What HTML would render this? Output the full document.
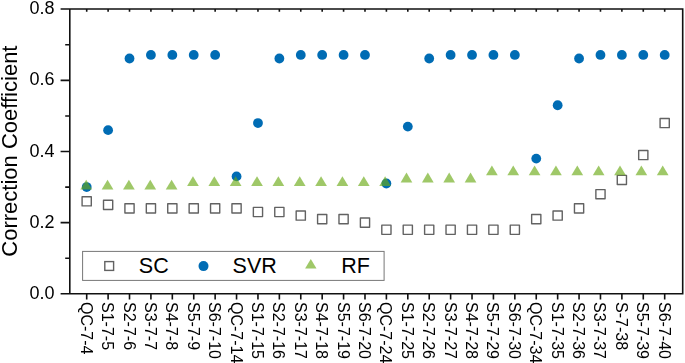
<!DOCTYPE html><html><head><meta charset="utf-8"><style>html,body{margin:0;padding:0;background:#fff;width:685px;height:363px;overflow:hidden}svg{display:block;font-family:"Liberation Sans",sans-serif}</style></head><body>
<svg width="685" height="363" viewBox="0 0 685 363">
<g style="will-change:transform">
<text transform="translate(16.7,151.1) rotate(-90)" font-size="22" text-anchor="middle">Correction Coefficient</text>
<text x="54.5" y="298.85" font-size="18" text-anchor="end">0.0</text>
<text x="54.5" y="227.70" font-size="18" text-anchor="end">0.2</text>
<text x="54.5" y="156.55" font-size="18" text-anchor="end">0.4</text>
<text x="54.5" y="85.40" font-size="18" text-anchor="end">0.6</text>
<text x="54.5" y="14.25" font-size="18" text-anchor="end">0.8</text>
</g>
<rect x="82.10" y="196.71" width="9.2" height="9.2" fill="none" stroke="#626262" stroke-width="1.4" stroke-linejoin="round"/>
<rect x="103.51" y="200.26" width="9.2" height="9.2" fill="none" stroke="#626262" stroke-width="1.4" stroke-linejoin="round"/>
<rect x="124.91" y="203.82" width="9.2" height="9.2" fill="none" stroke="#626262" stroke-width="1.4" stroke-linejoin="round"/>
<rect x="146.32" y="203.82" width="9.2" height="9.2" fill="none" stroke="#626262" stroke-width="1.4" stroke-linejoin="round"/>
<rect x="167.73" y="203.82" width="9.2" height="9.2" fill="none" stroke="#626262" stroke-width="1.4" stroke-linejoin="round"/>
<rect x="189.14" y="203.82" width="9.2" height="9.2" fill="none" stroke="#626262" stroke-width="1.4" stroke-linejoin="round"/>
<rect x="210.54" y="203.82" width="9.2" height="9.2" fill="none" stroke="#626262" stroke-width="1.4" stroke-linejoin="round"/>
<rect x="231.95" y="203.82" width="9.2" height="9.2" fill="none" stroke="#626262" stroke-width="1.4" stroke-linejoin="round"/>
<rect x="253.36" y="207.38" width="9.2" height="9.2" fill="none" stroke="#626262" stroke-width="1.4" stroke-linejoin="round"/>
<rect x="274.76" y="207.38" width="9.2" height="9.2" fill="none" stroke="#626262" stroke-width="1.4" stroke-linejoin="round"/>
<rect x="296.17" y="210.94" width="9.2" height="9.2" fill="none" stroke="#626262" stroke-width="1.4" stroke-linejoin="round"/>
<rect x="317.58" y="214.49" width="9.2" height="9.2" fill="none" stroke="#626262" stroke-width="1.4" stroke-linejoin="round"/>
<rect x="338.98" y="214.49" width="9.2" height="9.2" fill="none" stroke="#626262" stroke-width="1.4" stroke-linejoin="round"/>
<rect x="360.39" y="218.05" width="9.2" height="9.2" fill="none" stroke="#626262" stroke-width="1.4" stroke-linejoin="round"/>
<rect x="381.80" y="225.17" width="9.2" height="9.2" fill="none" stroke="#626262" stroke-width="1.4" stroke-linejoin="round"/>
<rect x="403.20" y="225.17" width="9.2" height="9.2" fill="none" stroke="#626262" stroke-width="1.4" stroke-linejoin="round"/>
<rect x="424.61" y="225.17" width="9.2" height="9.2" fill="none" stroke="#626262" stroke-width="1.4" stroke-linejoin="round"/>
<rect x="446.02" y="225.17" width="9.2" height="9.2" fill="none" stroke="#626262" stroke-width="1.4" stroke-linejoin="round"/>
<rect x="467.43" y="225.17" width="9.2" height="9.2" fill="none" stroke="#626262" stroke-width="1.4" stroke-linejoin="round"/>
<rect x="488.83" y="225.17" width="9.2" height="9.2" fill="none" stroke="#626262" stroke-width="1.4" stroke-linejoin="round"/>
<rect x="510.24" y="225.17" width="9.2" height="9.2" fill="none" stroke="#626262" stroke-width="1.4" stroke-linejoin="round"/>
<rect x="531.65" y="214.49" width="9.2" height="9.2" fill="none" stroke="#626262" stroke-width="1.4" stroke-linejoin="round"/>
<rect x="553.05" y="210.94" width="9.2" height="9.2" fill="none" stroke="#626262" stroke-width="1.4" stroke-linejoin="round"/>
<rect x="574.46" y="203.82" width="9.2" height="9.2" fill="none" stroke="#626262" stroke-width="1.4" stroke-linejoin="round"/>
<rect x="595.87" y="189.59" width="9.2" height="9.2" fill="none" stroke="#626262" stroke-width="1.4" stroke-linejoin="round"/>
<rect x="617.27" y="175.36" width="9.2" height="9.2" fill="none" stroke="#626262" stroke-width="1.4" stroke-linejoin="round"/>
<rect x="638.68" y="150.46" width="9.2" height="9.2" fill="none" stroke="#626262" stroke-width="1.4" stroke-linejoin="round"/>
<rect x="660.09" y="118.44" width="9.2" height="9.2" fill="none" stroke="#626262" stroke-width="1.4" stroke-linejoin="round"/>
<circle cx="86.70" cy="187.08" r="4.9" fill="#006cb4"/>
<circle cx="108.11" cy="130.16" r="4.9" fill="#006cb4"/>
<circle cx="129.51" cy="58.51" r="4.9" fill="#006cb4"/>
<circle cx="150.92" cy="54.95" r="4.9" fill="#006cb4"/>
<circle cx="172.33" cy="54.95" r="4.9" fill="#006cb4"/>
<circle cx="193.74" cy="54.95" r="4.9" fill="#006cb4"/>
<circle cx="215.14" cy="54.95" r="4.9" fill="#006cb4"/>
<circle cx="236.55" cy="176.40" r="4.9" fill="#006cb4"/>
<circle cx="257.96" cy="123.04" r="4.9" fill="#006cb4"/>
<circle cx="279.36" cy="58.51" r="4.9" fill="#006cb4"/>
<circle cx="300.77" cy="54.95" r="4.9" fill="#006cb4"/>
<circle cx="322.18" cy="54.95" r="4.9" fill="#006cb4"/>
<circle cx="343.58" cy="54.95" r="4.9" fill="#006cb4"/>
<circle cx="364.99" cy="54.95" r="4.9" fill="#006cb4"/>
<circle cx="386.40" cy="183.52" r="4.9" fill="#006cb4"/>
<circle cx="407.81" cy="126.60" r="4.9" fill="#006cb4"/>
<circle cx="429.21" cy="58.51" r="4.9" fill="#006cb4"/>
<circle cx="450.62" cy="54.95" r="4.9" fill="#006cb4"/>
<circle cx="472.03" cy="54.95" r="4.9" fill="#006cb4"/>
<circle cx="493.43" cy="54.95" r="4.9" fill="#006cb4"/>
<circle cx="514.84" cy="54.95" r="4.9" fill="#006cb4"/>
<circle cx="536.25" cy="158.62" r="4.9" fill="#006cb4"/>
<circle cx="557.65" cy="105.25" r="4.9" fill="#006cb4"/>
<circle cx="579.06" cy="58.51" r="4.9" fill="#006cb4"/>
<circle cx="600.47" cy="54.95" r="4.9" fill="#006cb4"/>
<circle cx="621.88" cy="54.95" r="4.9" fill="#006cb4"/>
<circle cx="643.28" cy="54.95" r="4.9" fill="#006cb4"/>
<circle cx="664.69" cy="54.95" r="4.9" fill="#006cb4"/>
<path d="M86.20 179.70L92.05 189.50L80.35 189.50Z" fill="#69a913" fill-opacity="0.64"/>
<path d="M107.55 179.70L113.40 189.50L101.70 189.50Z" fill="#69a913" fill-opacity="0.64"/>
<path d="M128.90 179.70L134.75 189.50L123.05 189.50Z" fill="#69a913" fill-opacity="0.64"/>
<path d="M150.26 179.70L156.11 189.50L144.41 189.50Z" fill="#69a913" fill-opacity="0.64"/>
<path d="M171.61 179.70L177.46 189.50L165.76 189.50Z" fill="#69a913" fill-opacity="0.64"/>
<path d="M192.96 176.14L198.81 185.94L187.11 185.94Z" fill="#69a913" fill-opacity="0.64"/>
<path d="M214.31 176.14L220.16 185.94L208.46 185.94Z" fill="#69a913" fill-opacity="0.64"/>
<path d="M235.66 176.14L241.51 185.94L229.81 185.94Z" fill="#69a913" fill-opacity="0.64"/>
<path d="M257.02 176.14L262.87 185.94L251.17 185.94Z" fill="#69a913" fill-opacity="0.64"/>
<path d="M278.37 176.14L284.22 185.94L272.52 185.94Z" fill="#69a913" fill-opacity="0.64"/>
<path d="M299.72 176.14L305.57 185.94L293.87 185.94Z" fill="#69a913" fill-opacity="0.64"/>
<path d="M321.07 176.14L326.92 185.94L315.22 185.94Z" fill="#69a913" fill-opacity="0.64"/>
<path d="M342.42 176.14L348.27 185.94L336.57 185.94Z" fill="#69a913" fill-opacity="0.64"/>
<path d="M363.78 176.14L369.63 185.94L357.93 185.94Z" fill="#69a913" fill-opacity="0.64"/>
<path d="M385.13 176.14L390.98 185.94L379.28 185.94Z" fill="#69a913" fill-opacity="0.64"/>
<path d="M406.48 172.58L412.33 182.38L400.63 182.38Z" fill="#69a913" fill-opacity="0.64"/>
<path d="M427.83 172.58L433.68 182.38L421.98 182.38Z" fill="#69a913" fill-opacity="0.64"/>
<path d="M449.18 172.58L455.03 182.38L443.33 182.38Z" fill="#69a913" fill-opacity="0.64"/>
<path d="M470.54 172.58L476.39 182.38L464.69 182.38Z" fill="#69a913" fill-opacity="0.64"/>
<path d="M491.89 165.47L497.74 175.27L486.04 175.27Z" fill="#69a913" fill-opacity="0.64"/>
<path d="M513.24 165.47L519.09 175.27L507.39 175.27Z" fill="#69a913" fill-opacity="0.64"/>
<path d="M534.59 165.47L540.44 175.27L528.74 175.27Z" fill="#69a913" fill-opacity="0.64"/>
<path d="M555.94 165.47L561.79 175.27L550.09 175.27Z" fill="#69a913" fill-opacity="0.64"/>
<path d="M577.30 165.47L583.15 175.27L571.45 175.27Z" fill="#69a913" fill-opacity="0.64"/>
<path d="M598.65 165.47L604.50 175.27L592.80 175.27Z" fill="#69a913" fill-opacity="0.64"/>
<path d="M620.00 165.47L625.85 175.27L614.15 175.27Z" fill="#69a913" fill-opacity="0.64"/>
<path d="M641.35 165.47L647.20 175.27L635.50 175.27Z" fill="#69a913" fill-opacity="0.64"/>
<path d="M662.70 165.47L668.55 175.27L656.85 175.27Z" fill="#69a913" fill-opacity="0.64"/>
<path d="M69.8 9.0V293.8M682.7 9.0V293.8M60.599999999999994 9.0H683.5M60.599999999999994 293.8H683.5" stroke="#111" stroke-width="1.6" fill="none"/>
<path d="M65.2 258.23H69.8M65.2 187.08H69.8M65.2 115.93H69.8M65.2 44.78H69.8M60.599999999999994 222.65H69.8M60.599999999999994 151.50H69.8M60.599999999999994 80.35H69.8M86.70 293.8V299.6M86.70 9.0V11.8M108.11 293.8V299.6M108.11 9.0V11.8M129.51 293.8V299.6M129.51 9.0V11.8M150.92 293.8V299.6M150.92 9.0V11.8M172.33 293.8V299.6M172.33 9.0V11.8M193.74 293.8V299.6M193.74 9.0V11.8M215.14 293.8V299.6M215.14 9.0V11.8M236.55 293.8V299.6M236.55 9.0V11.8M257.96 293.8V299.6M257.96 9.0V11.8M279.36 293.8V299.6M279.36 9.0V11.8M300.77 293.8V299.6M300.77 9.0V11.8M322.18 293.8V299.6M322.18 9.0V11.8M343.58 293.8V299.6M343.58 9.0V11.8M364.99 293.8V299.6M364.99 9.0V11.8M386.40 293.8V299.6M386.40 9.0V11.8M407.81 293.8V299.6M407.81 9.0V11.8M429.21 293.8V299.6M429.21 9.0V11.8M450.62 293.8V299.6M450.62 9.0V11.8M472.03 293.8V299.6M472.03 9.0V11.8M493.43 293.8V299.6M493.43 9.0V11.8M514.84 293.8V299.6M514.84 9.0V11.8M536.25 293.8V299.6M536.25 9.0V11.8M557.65 293.8V299.6M557.65 9.0V11.8M579.06 293.8V299.6M579.06 9.0V11.8M600.47 293.8V299.6M600.47 9.0V11.8M621.88 293.8V299.6M621.88 9.0V11.8M643.28 293.8V299.6M643.28 9.0V11.8M664.69 293.8V299.6M664.69 9.0V11.8" stroke="#111" stroke-width="1.6" fill="none"/>
<g style="will-change:transform">
<text transform="translate(80.70,302.0) rotate(90)" font-size="16">QC-7-4</text>
<text transform="translate(102.11,302.0) rotate(90)" font-size="16">S1-7-5</text>
<text transform="translate(123.51,302.0) rotate(90)" font-size="16">S2-7-6</text>
<text transform="translate(144.92,302.0) rotate(90)" font-size="16">S3-7-7</text>
<text transform="translate(166.33,302.0) rotate(90)" font-size="16">S4-7-8</text>
<text transform="translate(187.74,302.0) rotate(90)" font-size="16">S5-7-9</text>
<text transform="translate(209.14,302.0) rotate(90)" font-size="16">S6-7-10</text>
<text transform="translate(230.55,302.0) rotate(90)" font-size="16">QC-7-14</text>
<text transform="translate(251.96,302.0) rotate(90)" font-size="16">S1-7-15</text>
<text transform="translate(273.36,302.0) rotate(90)" font-size="16">S2-7-16</text>
<text transform="translate(294.77,302.0) rotate(90)" font-size="16">S3-7-17</text>
<text transform="translate(316.18,302.0) rotate(90)" font-size="16">S4-7-18</text>
<text transform="translate(337.58,302.0) rotate(90)" font-size="16">S5-7-19</text>
<text transform="translate(358.99,302.0) rotate(90)" font-size="16">S6-7-20</text>
<text transform="translate(380.40,302.0) rotate(90)" font-size="16">QC-7-24</text>
<text transform="translate(401.81,302.0) rotate(90)" font-size="16">S1-7-25</text>
<text transform="translate(423.21,302.0) rotate(90)" font-size="16">S2-7-26</text>
<text transform="translate(444.62,302.0) rotate(90)" font-size="16">S3-7-27</text>
<text transform="translate(466.03,302.0) rotate(90)" font-size="16">S4-7-28</text>
<text transform="translate(487.43,302.0) rotate(90)" font-size="16">S5-7-29</text>
<text transform="translate(508.84,302.0) rotate(90)" font-size="16">S6-7-30</text>
<text transform="translate(530.25,302.0) rotate(90)" font-size="16">QC-7-34</text>
<text transform="translate(551.65,302.0) rotate(90)" font-size="16">S1-7-35</text>
<text transform="translate(573.06,302.0) rotate(90)" font-size="16">S2-7-36</text>
<text transform="translate(594.47,302.0) rotate(90)" font-size="16">S3-7-37</text>
<text transform="translate(615.88,302.0) rotate(90)" font-size="16">S-7-38</text>
<text transform="translate(637.28,302.0) rotate(90)" font-size="16">S5-7-39</text>
<text transform="translate(658.69,302.0) rotate(90)" font-size="16">S6-7-40</text>
</g>
<rect x="82.6" y="251.4" width="301.5" height="29" fill="#fff" stroke="#777" stroke-width="1"/>
<rect x="104.8" y="261.6" width="8.8" height="8.8" fill="none" stroke="#626262" stroke-width="1.4"/>
<text x="138.8" y="272.7" font-size="21.5">SC</text>
<circle cx="203.5" cy="266.1" r="5" fill="#006cb4"/>
<text x="232.6" y="272.7" font-size="21.5">SVR</text>
<path d="M310.8 259.1L316.5 268.6L305.1 268.6Z" fill="#69a913" fill-opacity="0.64"/>
<text x="341.2" y="272.7" font-size="21.5">RF</text>
</svg></body></html>
